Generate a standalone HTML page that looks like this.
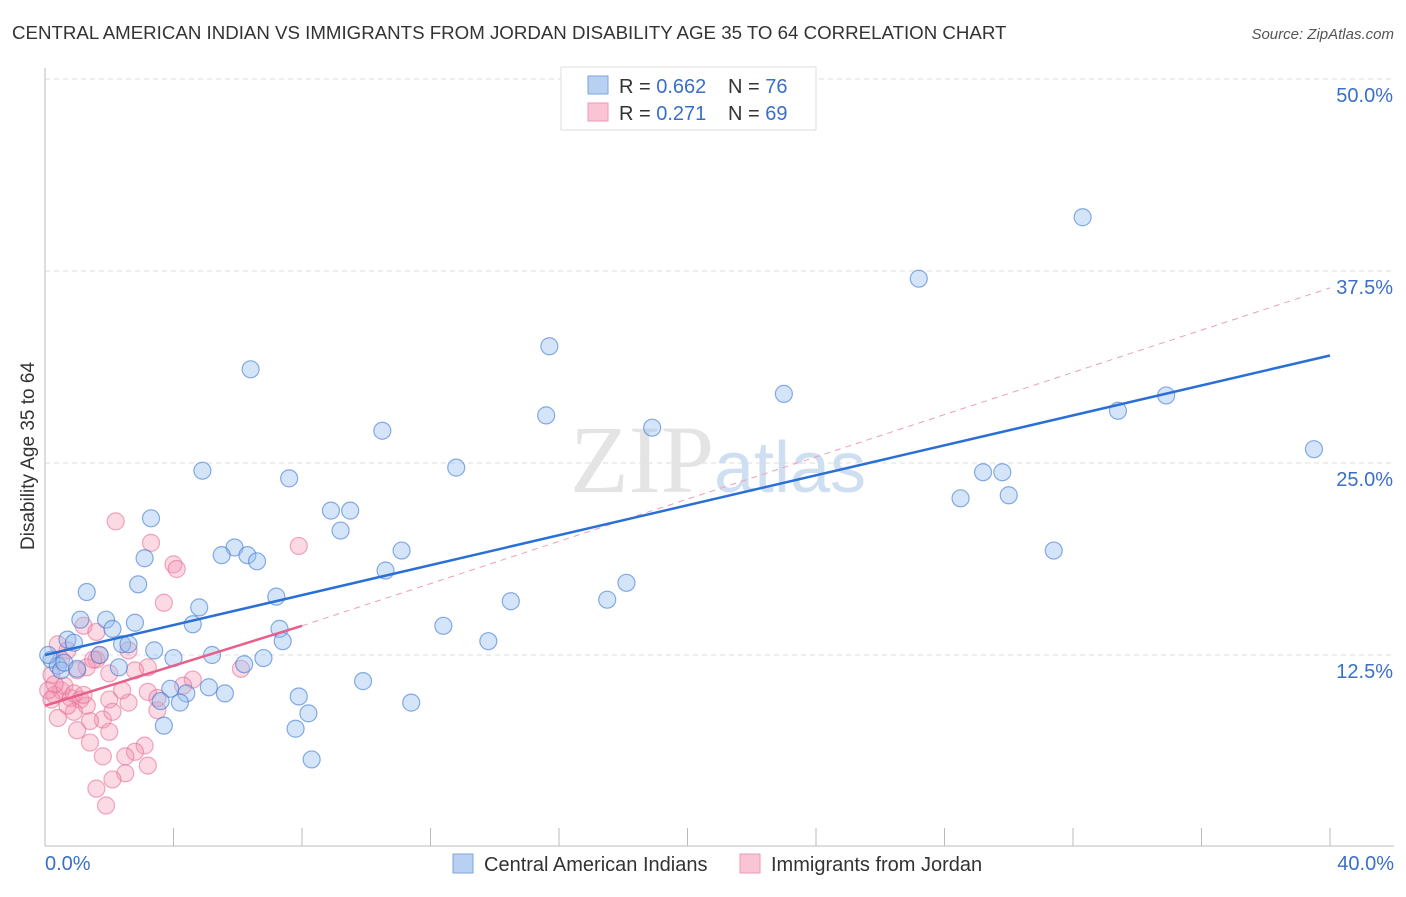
<!DOCTYPE html>
<html><head><meta charset="utf-8"><style>
body{margin:0;background:#fff;font-family:"Liberation Sans",sans-serif}
</style></head><body>
<svg width="1406" height="892" xmlns="http://www.w3.org/2000/svg">
<text x="12" y="39" font-size="18.7" fill="#333">CENTRAL AMERICAN INDIAN VS IMMIGRANTS FROM JORDAN DISABILITY AGE 35 TO 64 CORRELATION CHART</text>
<text x="1394" y="39" font-size="15" fill="#555" font-style="italic" text-anchor="end">Source: ZipAtlas.com</text>
<g id="grid"></g>
<line x1="45" y1="68" x2="45" y2="846" stroke="#bbb"/>
<line x1="45" y1="846" x2="1394" y2="846" stroke="#bbb"/>
<g id="xticks"></g>
<text x="718" y="492" font-size="96" fill="#e4e4e4" text-anchor="middle" font-family="Liberation Serif,serif">ZIP<tspan fill="#cfdff2" font-family="Liberation Sans,sans-serif" font-size="72">atlas</tspan></text>
<text transform="translate(34,456) rotate(-90)" font-size="19" fill="#333" text-anchor="middle">Disability Age 35 to 64</text>
<g id="pts"></g>
<g id="lines"></g>
<g id="ylabels"></g>
<text x="45" y="870" font-size="20" fill="#3a6fc8">0.0%</text>
<text x="1394" y="870" font-size="20" fill="#3a6fc8" text-anchor="end">40.0%</text>
<g>
<rect x="561" y="67" width="255" height="63" fill="#fff" stroke="#ddd"/>
<rect x="588" y="76" width="20" height="18" fill="#b8d0f2" stroke="#7da6e0"/>
<rect x="588" y="103" width="20" height="18" fill="#f9c4d3" stroke="#ee9ab3"/>
<text x="619" y="93" font-size="20" fill="#333">R = <tspan fill="#3a6fc8">0.662</tspan><tspan x="728">N = </tspan><tspan fill="#3a6fc8">76</tspan></text>
<text x="619" y="120" font-size="20" fill="#333">R = <tspan fill="#3a6fc8"> 0.271</tspan><tspan x="728">N = </tspan><tspan fill="#3a6fc8">69</tspan></text>
</g>
<g>
<rect x="453" y="854" width="20" height="19" fill="#b8d0f2" stroke="#7da6e0"/>
<text x="484" y="871" font-size="20" fill="#333">Central American Indians</text>
<rect x="740" y="854" width="20" height="19" fill="#f9c4d3" stroke="#ee9ab3"/>
<text x="771" y="871" font-size="20" fill="#333">Immigrants from Jordan</text>
</g>
</svg>
<script>
const yTicks=[12.5,25,37.5,50];
const yTickLabels=["12.5%","25.0%","37.5%","50.0%"];
const xTicks=[0,4,8,12,16,20,24,28,32,36,40];
const blueX=[32.3,27.2,15.7,6.4,23.0,34.9,33.4,15.6,39.5,18.9,10.5,4.9,12.8,7.6,29.2,29.8,28.5,30.0,8.9,9.5,3.3,9.2,5.9,5.5,6.3,6.6,3.1,11.1,31.4,10.6,2.9,18.1,1.3,17.5,7.2,14.5,4.8,1.1,1.9,2.8,4.6,12.4,7.3,2.1,0.7,7.4,13.8,0.9,2.4,2.6,3.4,1.7,5.2,4.0,6.8,0.2,2.3,6.2,0.4,0.5,9.9,3.9,5.1,5.6,4.4,7.9,3.6,4.2,11.4,8.2,3.7,7.8,8.3,0.1,0.6,1.0];
const blueY=[41.0,37.0,32.6,31.1,29.5,29.4,28.4,28.1,25.9,27.3,27.1,24.5,24.7,24.0,24.4,24.4,22.7,22.9,21.9,21.9,21.4,20.6,19.5,19.0,19.0,18.6,18.8,19.3,19.3,18.0,17.1,17.2,16.6,16.1,16.3,16.0,15.6,14.8,14.8,14.6,14.5,14.4,14.2,14.2,13.5,13.4,13.4,13.3,13.2,13.2,12.8,12.5,12.5,12.3,12.3,12.2,11.7,11.9,11.8,11.5,10.8,10.3,10.4,10.0,10.0,9.8,9.5,9.4,9.4,8.7,7.9,7.7,5.7,12.5,12.0,11.6];
const pinkX=[2.2,3.3,7.9,4.0,4.1,3.7,1.2,1.6,3.2,2.8,2.0,6.1,4.6,3.2,2.6,3.5,0.4,1.8,1.4,1.0,2.0,1.4,3.1,2.8,1.8,2.5,3.2,2.5,2.1,1.6,1.9,0.5,0.3,0.8,0.6,1.1,1.3,0.9,0.7,1.6,1.7,1.3,0.7,0.4,0.2,2.0,2.4,1.5,2.6,1.0,0.1,0.5,4.3,3.5,2.1,0.2,0.9,1.2,0.3];
const pinkY=[21.2,19.8,19.6,18.4,18.1,15.9,14.4,14.0,11.7,11.5,11.3,11.6,10.9,10.1,9.4,8.9,8.4,8.3,8.2,7.6,7.5,6.8,6.6,6.2,5.9,5.9,5.3,4.8,4.4,3.8,2.7,10.2,9.9,9.7,10.5,9.6,9.2,8.8,9.2,12.2,12.5,11.7,12.8,13.2,11.2,9.6,10.2,12.2,12.8,11.5,10.2,12.2,10.5,9.7,8.8,9.6,10.0,9.9,10.6];
const blueLine=[[0,12.5],[40,32.0]];
const pinkSolid=[[0,9.2],[8,14.4]];
const pinkDash=[[8,14.4],[40,36.4]];
const X=v=>45+v*1285/40, Y=v=>847-v*192/12.5;
const NS="http://www.w3.org/2000/svg";
function mk(p,t,a){const e=document.createElementNS(NS,t);for(const k in a)e.setAttribute(k,a[k]);document.getElementById(p).appendChild(e);return e;}
yTicks.forEach((t,i)=>{
 const g=mk('grid','line',{x1:45,x2:1394,y1:Y(t),y2:Y(t),stroke:'#ddd','stroke-dasharray':'5,4'});
 
 
 const l=mk('ylabels','text',{x:1393,y:Y(t)+23,'font-size':20,fill:'#3a6fc8','text-anchor':'end'});
 l.textContent=yTickLabels[i];
 
 
});
xTicks.forEach(t=>{
 const e=mk('xticks','line',{x1:X(t),x2:X(t),y1:828,y2:846,stroke:'#bbb'});
 
 
});
pinkX.forEach((v,i)=>{
 const c=mk('pts','circle',{cx:X(v),cy:Y(pinkY[i]),r:8.5,fill:'rgba(244,150,178,0.35)',stroke:'rgba(232,110,150,0.6)','stroke-width':1.2});
 
 
});
blueX.forEach((v,i)=>{
 const c=mk('pts','circle',{cx:X(v),cy:Y(blueY[i]),r:8.5,fill:'rgba(150,190,240,0.4)',stroke:'rgba(60,120,210,0.6)','stroke-width':1.2});
 
 
});
function ln(pts,col,w,dash,name){
 const e=mk('lines','line',{x1:X(pts[0][0]),y1:Y(pts[0][1]),x2:X(pts[1][0]),y2:Y(pts[1][1]),stroke:col,'stroke-width':w});
 if(dash)e.setAttribute('stroke-dasharray',dash);
 
 
}
ln(pinkDash,'#eba0b8',1,'6,5','trend-jordan-dashed');
ln(pinkSolid,'#e8608a',2.5,null,'trend-jordan');
ln(blueLine,'#2a6fd6',2.5,null,'trend-central-american');
</script>
</body></html>
